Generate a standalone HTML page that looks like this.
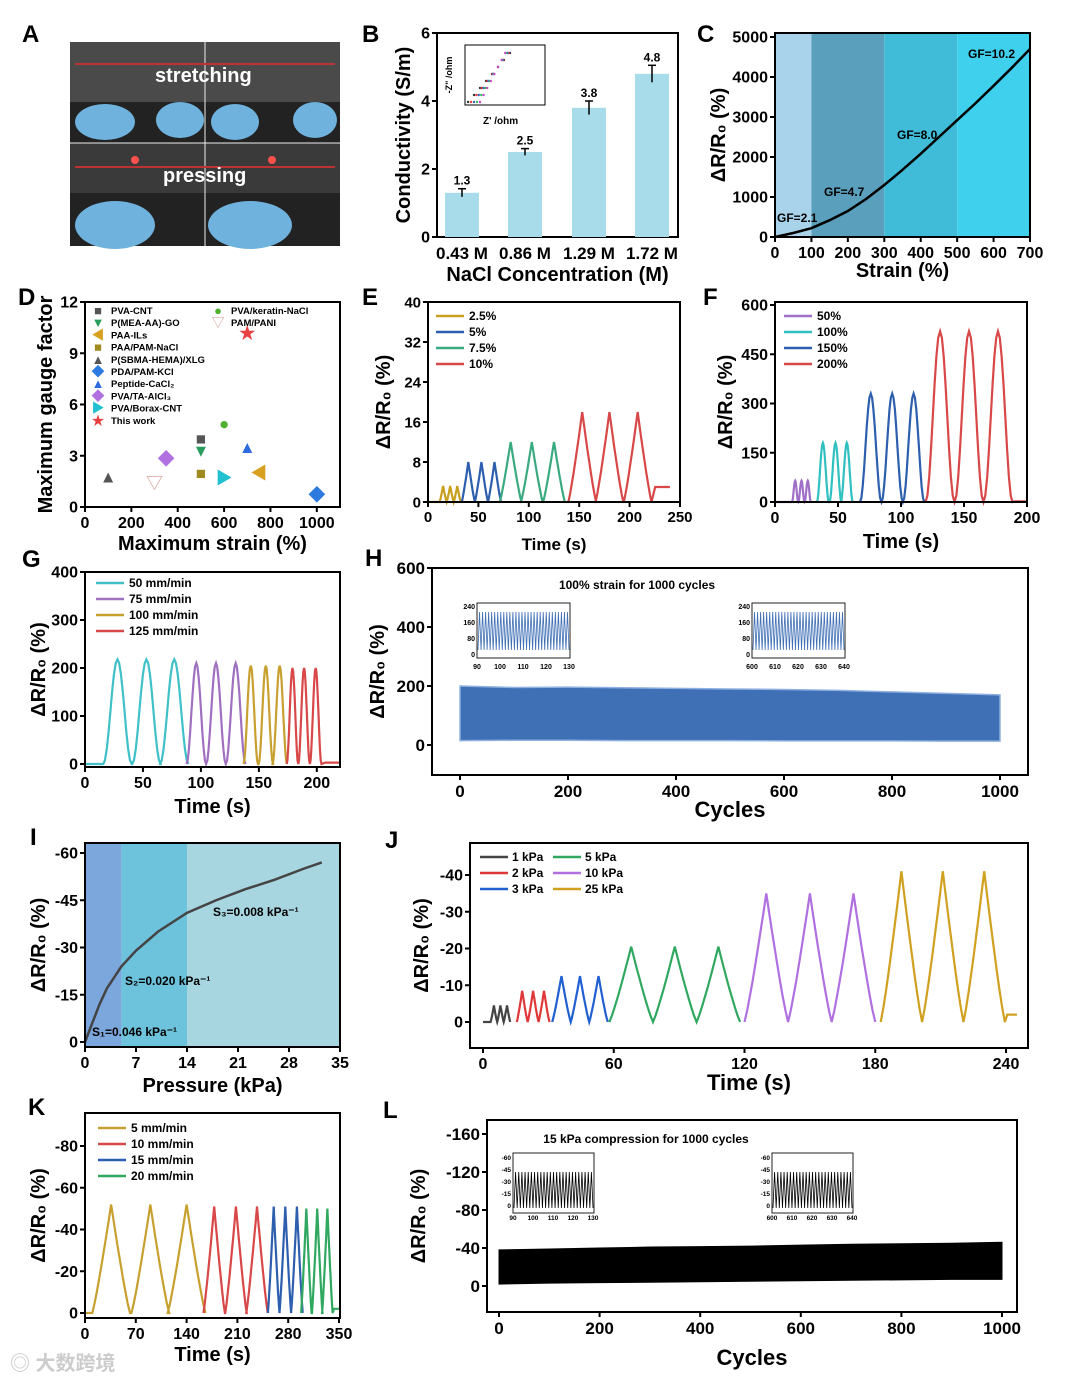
<!DOCTYPE html>
<html><head><meta charset="utf-8"><style>
html,body{margin:0;padding:0;background:#fff}
svg{display:block;font-family:"Liberation Sans","Noto Sans CJK SC",sans-serif}
text{font-weight:bold}
</style></head><body>
<svg id="fig" width="1080" height="1385" viewBox="0 0 1080 1385" xmlns="http://www.w3.org/2000/svg">
<rect width="1080" height="1385" fill="#fff"/>
<g>
<rect x="70" y="42" width="270" height="204" fill="#222"/>
<rect x="70" y="42" width="270" height="60" fill="#4a4a4a"/>
<rect x="70" y="143" width="270" height="50" fill="#3a3a3a"/>
<line x1="205" y1="42" x2="205" y2="246" stroke="#eee" stroke-width="1"/>
<line x1="70" y1="143" x2="340" y2="143" stroke="#eee" stroke-width="1"/>
<line x1="75" y1="64" x2="335" y2="64" stroke="#b33" stroke-width="2"/>
<line x1="75" y1="167" x2="335" y2="167" stroke="#b33" stroke-width="2"/>
<ellipse cx="105" cy="122" rx="30" ry="18" fill="#6fb2dd"/><ellipse cx="180" cy="120" rx="24" ry="18" fill="#6fb2dd"/>
<ellipse cx="235" cy="122" rx="24" ry="18" fill="#6fb2dd"/><ellipse cx="315" cy="120" rx="22" ry="18" fill="#6fb2dd"/>
<ellipse cx="115" cy="225" rx="40" ry="24" fill="#6fb2dd"/><ellipse cx="250" cy="225" rx="42" ry="24" fill="#6fb2dd"/>
<circle cx="135" cy="160" r="4" fill="#ff5050"/><circle cx="272" cy="160" r="4" fill="#ff5050"/>
<text x="155" y="82" fill="#fff" font-size="20" font-weight="normal">stretching</text>
<text x="163" y="182" fill="#fff" font-size="20" font-weight="normal">pressing</text>
</g>
<text x="10" y="1370" fill="#ccc" font-size="20">◎ 大数跨境</text>
</svg>
<script>
const NS='http://www.w3.org/2000/svg';
const svg=document.getElementById('fig');
function el(tag,attrs,name,parent){
  const e=document.createElementNS(NS,tag);
  for(const k in attrs)e.setAttribute(k,attrs[k]);
  
  
  (parent||svg).appendChild(e);return e;
}
function txt(x,y,s,size,name,opts){
  const t=el('text',Object.assign({x:x,y:y,'font-size':size},opts||{}),name);
  t.textContent=s;return t;
}
function scale(d0,d1,r0,r1){return v=>r0+(v-d0)*(r1-r0)/(d1-d0);}
function axes(p){
  const g=el('g',{},p.name);
  el('rect',{x:p.bx0,y:p.by0,width:p.bx1-p.bx0,height:p.by1-p.by0,fill:'none',stroke:'#000','stroke-width':2},p.name+'-frame');
  p.xt.forEach(v=>{const x=p.sx(v);
    el('line',{x1:x,x2:x,y1:p.by1,y2:p.by1+5,stroke:'#000','stroke-width':2},'x-tick');
    txt(x,p.by1+5+p.fs,String(v),p.fs,'x-tick-label',{'text-anchor':'middle'});});
  p.yt.forEach(v=>{const y=p.sy(v);
    el('line',{x1:p.bx0-5,x2:p.bx0,y1:y,y2:y,stroke:'#000','stroke-width':2},'y-tick');
    txt(p.bx0-7,y+p.fs*0.35,String(v),p.fs,'y-tick-label',{'text-anchor':'end'});});
  if(p.xl)txt(p.xlx||(p.bx0+p.bx1)/2,p.xly,p.xl,p.xls||20,'x-axis-title',{'text-anchor':'middle'});
  if(p.yl){txt(0,0,p.yl,p.yls||20,'y-axis-title',{'text-anchor':'middle',transform:`translate(${p.ylx},${(p.by0+p.by1)/2}) rotate(-90)`});}
  txt(p.lx,p.ly,p.letter,24,'panel-letter-'+p.letter);
}
function wave(sx,sy,series,start,tail,tailVal,tri){
  series.forEach((s,si)=>{
    const per=s.peaks.length>1?(s.peaks[s.peaks.length-1]-s.peaks[0])/(s.peaks.length-1):10;
    let pts=[];
    if(si===0)pts.push([start,0]);
    s.peaks.forEach(t=>{
      for(let i=0;i<=16;i++){const f=i/16;const tt=t-per/2+f*per;
        const sh=tri?(f<0.5?Math.pow(f*2,1.15):Math.pow((1-f)*2,1.15)):(1-Math.cos(2*Math.PI*f))/2;
        pts.push([tt,s.vals[0]*sh]);}
    });
    if(si===series.length-1){const e=pts[pts.length-1][0];pts.push([e+(tail-e)*0.2,tailVal]);pts.push([tail,tailVal]);}
    el('polyline',{points:pts.map(p=>sx(p[0]).toFixed(1)+','+sy(p[1]).toFixed(1)).join(' '),fill:'none',stroke:s.color,'stroke-width':2.2},'series-'+s.label.replace(/[^a-z0-9]/gi,''));
  });
}
function legend(x,y,items,dy,fs){
  items.forEach((it,i)=>{
    el('line',{x1:x,x2:x+28,y1:y+i*dy,y2:y+i*dy,stroke:it.color,'stroke-width':2.5},'legend-line');
    txt(x+33,y+i*dy+4,it.label,fs,'legend-entry');
  });
}

/* ---------- B ---------- */
const bCats=['0.43 M','0.86 M','1.29 M','1.72 M'];
const bVals=[1.3,2.5,3.8,4.8];
const bErr=[0.12,0.1,0.2,0.25];
(function(){
  const sy=scale(0,6,237,33);const xs=[462,525,589,652];
  axes({name:'panel-b',bx0:437,bx1:678,by0:33,by1:237,sx:v=>0,sy:sy,xt:[],yt:[0,2,4,6],fs:16,yl:'Conductivity (S/m)',ylx:410,xl:'NaCl Concentration (M)',xly:281,letter:'B',lx:362,ly:42});
  bVals.forEach((v,i)=>{
    el('rect',{x:xs[i]-17,y:sy(v),width:34,height:237-sy(v),fill:'#a9dcea'},'bar-'+bCats[i]);
    el('line',{x1:xs[i],x2:xs[i],y1:sy(v+bErr[i]),y2:sy(v-bErr[i]),stroke:'#000','stroke-width':1.5},'error-bar');
    el('line',{x1:xs[i]-4,x2:xs[i]+4,y1:sy(v+bErr[i]),y2:sy(v+bErr[i]),stroke:'#000','stroke-width':1.5},'error-cap');
    txt(xs[i],sy(v+bErr[i])-4,String(v),12,'bar-value',{'text-anchor':'middle'});
    txt(xs[i],259,bCats[i],17,'x-category-label',{'text-anchor':'middle'});
  });
  el('rect',{x:465,y:45,width:80,height:60,fill:'#fff',stroke:'#000'},'inset-nyquist');
  const cols=['#333','#e33','#36c','#3b6','#c4c'];
  cols.forEach((c,i)=>{for(let k=0;k<8;k++)el('circle',{cx:468+k*(6-i*0.6)+i*3,cy:102-k*7,r:1.2,fill:c},'inset-point');});
  txt(483,124,"Z' /ohm",10,'inset-x-title');
  txt(0,0,'-Z" /ohm',9,'inset-y-title',{transform:'translate(452,75) rotate(-90)','text-anchor':'middle'});
})();

/* ---------- C ---------- */
const cStrain=[0,50,100,150,200,250,300,350,400,450,500,550,600,650,700];
const cResp=[0,100,220,420,650,950,1300,1680,2080,2500,2920,3340,3780,4230,4700];
(function(){
  const sx=scale(0,700,775,1030),sy=scale(0,5000,237,37);
  [[0,100,'#a9d3ea'],[100,300,'#5aa0bc'],[300,500,'#40bcd8'],[500,700,'#3fd0ee']].forEach(b=>
    el('rect',{x:sx(b[0]),y:33,width:sx(b[1])-sx(b[0]),height:204,fill:b[2]},'gf-region'));
  el('polyline',{points:cStrain.map((v,i)=>sx(v)+','+sy(cResp[i])).join(' '),fill:'none',stroke:'#000','stroke-width':2.5},'strain-curve');
  axes({name:'panel-c',bx0:775,bx1:1030,by0:33,by1:237,sx:sx,sy:sy,xt:[0,100,200,300,400,500,600,700],yt:[0,1000,2000,3000,4000,5000],fs:16,yl:'ΔR/R₀ (%)',ylx:725,xl:'Strain (%)',xly:277,letter:'C',lx:697,ly:42});
  txt(777,222,'GF=2.1',12,'gf-label');txt(824,196,'GF=4.7',12,'gf-label');txt(897,139,'GF=8.0',12,'gf-label');txt(968,58,'GF=10.2',12,'gf-label');
})();

/* ---------- D ---------- */
const dNames=['PVA-CNT','P(MEA-AA)-GO','PAA-ILs','PAA/PAM-NaCl','P(SBMA-HEMA)/XLG','PDA/PAM-KCl','Peptide-CaCl₂','PVA/TA-AlCl₃','PVA/Borax-CNT','This work','PVA/keratin-NaCl','PAM/PANI'];
const dStrain=[500,500,750,500,100,1000,700,350,600,700,600,300];
const dGF=[4.0,3.3,2.0,2.0,1.8,0.7,3.5,2.8,1.7,10.2,4.9,1.4];
const dColors=['#555','#2a9d5c','#d8a020','#a08a20','#555','#2d7ae0','#2d6ae0','#b070e0','#20c0d0','#e84040','#50b030','#d8a8a0'];
const dSym=['■','▼','◀','■','▲','◆','▲','◆','▶','★','●','▽'];
(function(){
  const sx=scale(0,1100,85,340),sy=scale(0,12,507,302);
  axes({name:'panel-d',bx0:85,bx1:340,by0:302,by1:507,sx:sx,sy:sy,xt:[0,200,400,600,800,1000],yt:[0,3,6,9,12],fs:16,yl:'Maximum gauge factor',ylx:52,xl:'Maximum strain (%)',xly:550,letter:'D',lx:18,ly:305});
  dNames.forEach((n,i)=>{
    txt(sx(dStrain[i]),sy(dGF[i])+6,dSym[i],17,'point-'+n,{'text-anchor':'middle',fill:dColors[i]});
    const lx=i<10?98:218,ly=i<10?315+i*12.2:315+(i-10)*12.2;
    txt(lx,ly,dSym[i],13,'legend-marker',{'text-anchor':'middle',fill:dColors[i]});
    txt(lx+13,ly-1,n,9.5,'legend-entry');
  });
})();

/* ---------- E ---------- */
const eLabels=['2.5%','5%','7.5%','10%'];
const eColors=['#c8a020','#2d5fae','#3aaa80','#d84848'];
const ePeaks=[[15,22,29],[40,53,66],[82,103,125],[153,180,208]];
const eVals=[3.2,8,12,18];
(function(){
  const sx=scale(0,250,428,680),sy=scale(0,40,502,302);
  wave(sx,sy,eLabels.map((l,i)=>({label:'e'+l,color:eColors[i],peaks:ePeaks[i],vals:[eVals[i]]})),0,240,3,true);
  axes({name:'panel-e',bx0:428,bx1:680,by0:302,by1:502,sx:sx,sy:sy,xt:[0,50,100,150,200,250],yt:[0,8,16,24,32,40],fs:15,yl:'ΔR/R₀ (%)',ylx:390,xl:'Time (s)',xly:550,xls:17,letter:'E',lx:362,ly:305});
  legend(436,316,eLabels.map((l,i)=>({label:l,color:eColors[i]})),16,12);
})();

/* ---------- F ---------- */
const fLabels=['50%','100%','150%','200%'];
const fColors=['#a070c8','#30c0c0','#2d5fae','#d84848'];
const fPeaks=[[16,21,26],[38,48,57],[76,93,110],[131,154,177]];
const fVals=[65,180,330,520];
(function(){
  const sx=scale(0,200,775,1027),sy=scale(0,600,502,305);
  wave(sx,sy,fLabels.map((l,i)=>({label:'f'+l,color:fColors[i],peaks:fPeaks[i],vals:[fVals[i]]})),0,200,2);
  axes({name:'panel-f',bx0:775,bx1:1027,by0:302,by1:502,sx:sx,sy:sy,xt:[0,50,100,150,200],yt:[0,150,300,450,600],fs:16,yl:'ΔR/R₀ (%)',ylx:732,xl:'Time (s)',xly:548,letter:'F',lx:703,ly:305});
  legend(784,316,fLabels.map((l,i)=>({label:l,color:fColors[i]})),16,12);
})();

/* ---------- G ---------- */
const gLabels=['50  mm/min','75  mm/min','100 mm/min','125 mm/min'];
const gColors=['#40c0c8','#a070c0','#c8a030','#d84848'];
const gPeaks=[[28,53,77],[96,113,130],[143,156,168],[179,189,199]];
const gVals=[218,210,205,200];
(function(){
  const sx=scale(0,220,85,340),sy=scale(0,400,764,572);
  wave(sx,sy,gLabels.map((l,i)=>({label:'g'+i,color:gColors[i],peaks:gPeaks[i],vals:[gVals[i]]})),0,220,3);
  axes({name:'panel-g',bx0:85,bx1:340,by0:572,by1:767,sx:sx,sy:sy,xt:[0,50,100,150,200],yt:[0,100,200,300,400],fs:16,yl:'ΔR/R₀ (%)',ylx:45,xl:'Time (s)',xly:813,letter:'G',lx:22,ly:567});
  legend(96,583,gLabels.map((l,i)=>({label:l,color:gColors[i]})),16,12);
})();

/* ---------- H ---------- */
const hCycles=[0,100,200,300,400,500,600,700,800,900,1000];
const hTop=[200,195,196,194,192,190,188,185,180,175,170];
const hBottom=[15,16,16,15,15,15,14,14,14,13,13];
(function(){
  const sx=scale(0,1000,460,1000),sy=scale(0,200,745,686);
  const pts=hCycles.map((c,i)=>sx(c)+','+sy(hTop[i])).concat(hCycles.slice().reverse().map((c,i)=>sx(c)+','+sy(hBottom[hBottom.length-1-i])));
  el('polygon',{points:pts.join(' '),fill:'#3f6fb5',stroke:'#8fb0e0','stroke-width':1.5},'cycle-band');
  axes({name:'panel-h',bx0:432,bx1:1028,by0:568,by1:775,sx:sx,sy:sy,xt:[0,200,400,600,800,1000],yt:[0,200,400,600],fs:17,yl:'ΔR/R₀ (%)',ylx:384,xl:'Cycles',xly:817,xls:22,letter:'H',lx:365,ly:566});
  txt(637,589,'100% strain for 1000 cycles',12,'inset-caption',{'text-anchor':'middle'});
  [[90,130,477],[600,640,752]].forEach((r,k)=>{
    el('rect',{x:r[2],y:603,width:93,height:55,fill:'#fff',stroke:'#222'},'inset-box');
    let p=[];for(let i=0;i<=60;i++)p.push((r[2]+1+i*91/60)+','+(i%2?612:650));
    el('polyline',{points:p.join(' '),fill:'none',stroke:'#3f6fb5','stroke-width':0.8},'inset-wave');
    ['240','160','80','0'].forEach((t,j)=>txt(r[2]-2,609+j*16,t,7,'inset-y-label',{'text-anchor':'end'}));
    for(let j=0;j<5;j++)txt(r[2]+j*23,669,String(r[0]+j*10),7,'inset-x-label',{'text-anchor':'middle'});
  });
})();

/* ---------- I ---------- */
const iP=[0,1,2,3,5,7,10,14,18,22,26,30,32.5];
const iR=[0,-6,-12,-17,-24,-29,-35,-41,-45,-48.5,-51.5,-55,-57];
(function(){
  const sx=scale(0,35,85,340),sy=scale(0,-60,1042,853);
  [[0,5,'#7ba7dc'],[5,14,'#6ec3dc'],[14,35,'#a8d6e0']].forEach(b=>el('rect',{x:sx(b[0]),y:843,width:sx(b[1])-sx(b[0]),height:204,fill:b[2]},'sensitivity-region'));
  el('polyline',{points:iP.map((v,i)=>sx(v)+','+sy(iR[i])).join(' '),fill:'none',stroke:'#444','stroke-width':2.5},'pressure-curve');
  axes({name:'panel-i',bx0:85,bx1:340,by0:843,by1:1047,sx:sx,sy:sy,xt:[0,7,14,21,28,35],yt:[0,-15,-30,-45,-60],fs:16,yl:'ΔR/R₀ (%)',ylx:45,xl:'Pressure (kPa)',xly:1092,letter:'I',lx:30,ly:845});
  txt(92,1036,'S₁=0.046 kPa⁻¹',12,'slope-label');txt(125,985,'S₂=0.020 kPa⁻¹',12,'slope-label');txt(213,916,'S₃=0.008 kPa⁻¹',12,'slope-label');
})();

/* ---------- J ---------- */
const jLabels=['1 kPa','2 kPa','3 kPa','5  kPa','10 kPa','25 kPa'];
const jColors=['#444','#e03838','#2060d0','#30a860','#b070e0','#d0a020'];
const jPeaks=[[5,8,11],[18,23,28],[36,44.5,53],[68,88,108],[130,150,170],[192,211,230]];
const jVals=[-4.5,-8.5,-12.5,-20.5,-35,-41];
(function(){
  const sx=scale(0,240,483,1006),sy=scale(0,-40,1022,875);
  wave(sx,sy,jLabels.map((l,i)=>({label:'j'+i,color:jColors[i],peaks:jPeaks[i],vals:[jVals[i]]})),0,245,-2,true);
  axes({name:'panel-j',bx0:470,bx1:1028,by0:843,by1:1048,sx:sx,sy:sy,xt:[0,60,120,180,240],yt:[0,-10,-20,-30,-40],fs:16,yl:'ΔR/R₀ (%)',ylx:428,xl:'Time (s)',xly:1090,xls:22,letter:'J',lx:385,ly:848});
  jLabels.forEach((l,i)=>{const x=480+(i>=3?73:0),y=857+(i%3)*16;
    el('line',{x1:x,x2:x+28,y1:y,y2:y,stroke:jColors[i],'stroke-width':2.5},'legend-line');txt(x+32,y+4,l,12,'legend-entry');});
})();

/* ---------- K ---------- */
const kLabels=['5 mm/min','10 mm/min','15 mm/min','20 mm/min'];
const kColors=['#c8a030','#d84848','#2d5fae','#30a860'];
const kPeaks=[[36,90,140],[178,208,237],[260,276,292],[305,320,334]];
const kVals=[-52,-51,-51,-50];
(function(){
  const sx=scale(0,350,85,339),sy=scale(0,-80,1313,1146);
  wave(sx,sy,kLabels.map((l,i)=>({label:'k'+i,color:kColors[i],peaks:kPeaks[i],vals:[kVals[i]]})),0,350,-2,true);
  axes({name:'panel-k',bx0:85,bx1:340,by0:1113,by1:1318,sx:sx,sy:sy,xt:[0,70,140,210,280,350],yt:[0,-20,-40,-60,-80],fs:16,yl:'ΔR/R₀ (%)',ylx:45,xl:'Time (s)',xly:1361,letter:'K',lx:28,ly:1115});
  legend(98,1128,kLabels.map((l,i)=>({label:l,color:kColors[i]})),16,12);
})();

/* ---------- L ---------- */
const lCycles=[0,100,200,300,400,500,600,700,800,900,1000];
const lTop=[-38,-39,-40,-41,-41.5,-42,-43,-44,-44.5,-45,-46];
const lBottom=[-2,-3,-3.5,-4,-4.5,-5,-5.5,-6,-6.5,-7,-7];
(function(){
  const sx=scale(0,1000,499,1002),sy=scale(0,-160,1286,1134);
  const pts=lCycles.map((c,i)=>sx(c)+','+sy(lTop[i])).concat(lCycles.slice().reverse().map((c,i)=>sx(c)+','+sy(lBottom[lBottom.length-1-i])));
  el('polygon',{points:pts.join(' '),fill:'#000',stroke:'#000','stroke-width':1},'cycle-band');
  axes({name:'panel-l',bx0:487,bx1:1017,by0:1120,by1:1312,sx:sx,sy:sy,xt:[0,200,400,600,800,1000],yt:[0,-40,-80,-120,-160],fs:17,yl:'ΔR/R₀ (%)',ylx:425,xl:'Cycles',xly:1365,xls:22,letter:'L',lx:383,ly:1118});
  txt(646,1143,'15 kPa compression for 1000 cycles',12,'inset-caption',{'text-anchor':'middle'});
  [[90,130,513],[600,640,772]].forEach(r=>{
    el('rect',{x:r[2],y:1153,width:81,height:60,fill:'#fff',stroke:'#222'},'inset-box');
    let p=[];for(let i=0;i<=50;i++)p.push((r[2]+1+i*79/50)+','+(i%2?1172:1208));
    el('polyline',{points:p.join(' '),fill:'none',stroke:'#000','stroke-width':0.8},'inset-wave');
    ['-60','-45','-30','-15','0'].forEach((t,j)=>txt(r[2]-2,1160+j*12,t,6.5,'inset-y-label',{'text-anchor':'end'}));
    for(let j=0;j<5;j++)txt(r[2]+j*20,1220,String(r[0]+j*10),6.5,'inset-x-label',{'text-anchor':'middle'});
  });
})();
txt(22,42,'A',24,'panel-letter-A');
</script>
</body></html>
